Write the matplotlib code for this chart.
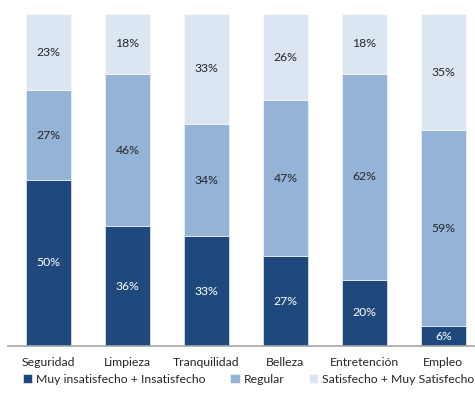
import matplotlib.pyplot as plt
import numpy as np

categories = ['Seguridad', 'Limpieza', 'Tranquilidad', 'Belleza', 'Entretención', 'Empleo']
insatisfecho = [50, 36, 33, 27, 20, 6]
regular = [27, 46, 34, 47, 62, 59]
satisfecho = [23, 18, 33, 26, 18, 35]
series_names = ['Muy insatisfecho + Insatisfecho', 'Regular', 'Satisfecho + Muy Satisfecho']

colors = ['#1F497D', '#95B3D7', '#DCE6F2']
text_colors = ['white', '#262626', '#262626']

plt.rcParams['font.family'] = ['Lato', 'DejaVu Sans']

fig = plt.figure(figsize=(4.75, 4.11), dpi=100)
ax = fig.add_axes([8 / 475, 1 - 346 / 411, 1 - 8 / 475, 332 / 411])

x = np.arange(len(categories))
bottom = np.zeros(len(categories))
for vals, col, tcol, name in zip([insatisfecho, regular, satisfecho], colors, text_colors, series_names):
    vals = np.array(vals)
    ax.bar(x, vals, 0.57, bottom=bottom, color=col, label=name,
           edgecolor='white', linewidth=0.4)
    for xi, b, v in zip(x, bottom, vals):
        ax.text(xi, b + v / 2, f'{v}%', ha='center', va='center', fontsize=8.8, color=tcol)
    bottom += vals

ax.set_xlim(-0.51, 5.4)
ax.set_ylim(0, 100)
ax.set_yticks([])
ax.set_xticks(x)
ax.set_xticklabels(categories, fontsize=8.8, color='#262626')
ax.tick_params(axis='x', length=0, pad=8)
for s in ['top', 'left', 'right']:
    ax.spines[s].set_visible(False)
ax.spines['bottom'].set_color('#A6A6A6')
ax.spines['bottom'].set_linewidth(1.2)

fig.legend(loc='center', bbox_to_anchor=(0.5 + 11 / 475, 1 - 379 / 411), ncol=3, frameon=False,
           fontsize=8.8, handlelength=0.8, handleheight=0.8, handletextpad=0.3,
           columnspacing=2.0, labelcolor='#262626')

fig.savefig('out.png', dpi=100)
